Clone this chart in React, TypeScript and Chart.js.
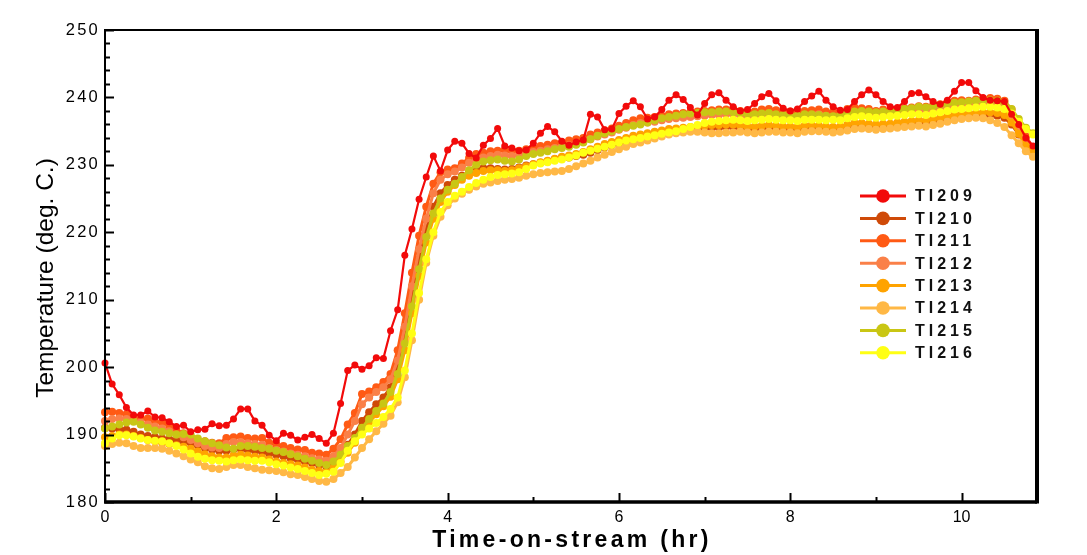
import React, { useEffect, useRef } from 'react';
import { Chart, registerables } from 'chart.js';

Chart.register(...registerables);

// sampling: one reading every 5 minutes, from 0 hr
const SAMPLE_MINUTES = 5;
const X_MAX = 10.88;
const Y_MIN = 180;
const Y_MAX = 250;
const yTicks = [180, 190, 200, 210, 220, 230, 240, 250];
const xTicks = [0, 2, 4, 6, 8, 10];
const yMinorStep = 2;
const xMinorStep = 1;

const seriesNames = ['TI209', 'TI210', 'TI211', 'TI212', 'TI213', 'TI214', 'TI215', 'TI216'];
const seriesColors = ['#f20a0a', '#cf4a08', '#ff5a14', '#fa8048', '#ffa300', '#ffb845', '#c9c614', '#ffff14'];

const ti209 = [
  200.6, 197.5, 195.9, 194.0, 192.9, 192.9, 193.5, 192.6, 192.5, 191.9,
  191.2, 191.4, 190.4, 190.7, 190.8, 191.6, 191.3, 191.4, 192.3, 193.8,
  193.8, 192.0, 191.4, 189.9, 189.1, 190.2, 189.9, 189.2, 189.6, 190.0,
  189.4, 188.7, 190.2, 194.6, 199.5, 200.3, 199.7, 200.2, 201.4, 201.3,
  205.4, 208.5, 216.6, 220.5, 224.9, 228.2, 231.3, 229.1, 232.2, 233.5,
  233.2, 231.7, 231.0, 232.9, 233.9, 235.4, 232.8, 232.5, 232.1, 232.2,
  233.2, 234.7, 235.7, 234.9, 233.5, 232.9, 233.4, 233.7, 237.5, 237.1,
  235.2, 235.3, 237.6, 238.7, 239.5, 238.6, 236.8, 237.1, 238.2, 239.6,
  240.4, 239.7, 238.5, 237.4, 239.1, 240.4, 240.7, 239.6, 238.6, 238.0,
  238.2, 239.1, 240.1, 240.6, 239.5, 238.4, 238.0, 238.3, 239.4, 240.2,
  240.9, 239.6, 238.6, 238.1, 238.2, 239.4, 240.4, 241.1, 240.4, 239.4,
  238.6, 238.5, 239.4, 240.6, 240.7, 240.1, 239.4, 239.0, 239.6, 240.9,
  242.2, 242.2, 241.0, 240.0, 239.6, 239.5, 239.4, 237.5, 236.0, 234.0, 232.8,
];

const ti210 = [
  191.0, 190.9, 190.8, 190.7, 190.4, 190.0, 189.8, 189.6, 189.4, 189.3,
  189.2, 189.0, 188.8, 188.4, 188.0, 187.8, 187.6, 187.6, 187.8, 187.9,
  187.7, 187.6, 187.4, 187.2, 187.0, 186.8, 186.5, 186.3, 186.0, 185.8,
  185.5, 185.3, 185.9, 187.0, 188.5, 190.0, 192.0, 193.3, 194.5, 195.5,
  197.0, 200.0, 205.0, 210.5, 216.0, 220.5, 223.8, 225.8, 227.0, 227.8,
  228.4, 228.9, 229.3, 229.5, 229.5, 229.4, 229.3, 229.4, 229.6, 229.9,
  230.1, 230.3, 230.5, 230.8, 231.0, 231.1, 231.3, 231.5, 231.8, 232.2,
  232.6, 232.9, 233.2, 233.5, 233.8, 234.0, 234.2, 234.5, 234.7, 234.9,
  235.0, 235.1, 235.2, 235.3, 235.4, 235.5, 235.5, 235.6, 235.6, 235.4,
  235.2, 235.3, 235.4, 235.5, 235.4, 235.3, 235.3, 235.2, 235.4, 235.5,
  235.4, 235.3, 235.2, 235.3, 235.6, 235.8, 235.8, 235.7, 235.6, 235.7,
  235.7, 235.9, 236.0, 236.1, 236.2, 236.2, 236.4, 236.6, 236.8, 237.0,
  237.1, 237.2, 237.3, 237.4, 237.4, 237.3, 237.0, 236.0, 234.5, 233.2, 232.0,
];

const ti211 = [
  193.3, 193.4, 193.2, 193.0, 192.5, 192.3, 192.4, 191.9, 191.8, 191.3,
  190.6, 190.2, 189.6, 189.2, 189.0, 188.8, 188.7, 189.5, 189.6, 189.7,
  189.5, 189.4, 189.5, 188.8, 188.5, 188.3, 188.0, 187.8, 187.7, 187.3,
  187.2, 187.0, 187.9, 189.3, 191.5, 193.2, 196.0, 196.4, 197.0, 197.8,
  199.0, 202.5, 208.0, 214.0, 219.5, 223.8, 227.2, 228.9, 229.3, 229.5,
  230.2, 231.0, 231.6, 231.8, 232.0, 232.1, 232.2, 232.0, 232.1, 232.3,
  232.5, 232.8, 233.0, 233.2, 233.3, 233.6, 233.8, 234.0, 234.5, 234.8,
  235.1, 235.4, 235.8, 236.2, 236.6, 236.9, 237.0, 237.1, 237.3, 237.5,
  237.6, 237.7, 237.8, 237.9, 238.0, 238.1, 238.2, 238.2, 238.3, 238.0,
  237.8, 237.9, 238.2, 238.3, 238.1, 237.8, 237.9, 237.7, 238.0, 238.1,
  238.2, 237.9, 237.8, 237.9, 238.3, 238.5, 238.4, 238.3, 238.0, 238.2,
  238.1, 238.3, 238.4, 238.5, 238.7, 238.6, 238.8, 239.0, 239.3, 239.5,
  239.6, 239.5, 239.7, 239.8, 239.9, 239.8, 239.5, 238.2, 236.0, 234.2, 232.6,
];

const ti212 = [
  192.0, 192.3, 192.4, 192.3, 192.0, 191.8, 191.5, 191.2, 190.9, 190.5,
  190.0, 189.6, 189.2, 188.7, 188.3, 188.1, 188.0, 188.6, 188.9, 188.9,
  188.7, 188.6, 188.5, 188.0, 187.7, 187.5, 187.2, 187.0, 186.8, 186.5,
  186.3, 186.1, 186.8, 188.0, 190.0, 192.0, 194.5, 195.5, 196.3, 197.0,
  198.2, 201.0, 206.0, 212.0, 217.5, 222.0, 225.8, 227.8, 228.6, 229.0,
  229.6, 230.3, 230.8, 231.1, 231.3, 231.5, 231.4, 231.3, 231.5, 231.7,
  231.9, 232.1, 232.3, 232.5, 232.7, 232.9, 233.1, 233.4, 233.8, 234.2,
  234.5, 234.8, 235.2, 235.5, 235.9, 236.2, 236.3, 236.4, 236.6, 236.8,
  236.9, 237.0, 237.1, 237.2, 237.3, 237.4, 237.4, 237.5, 237.5, 237.3,
  237.1, 237.2, 237.4, 237.5, 237.3, 237.1, 237.2, 237.0, 237.3, 237.4,
  237.5, 237.2, 237.1, 237.2, 237.6, 237.7, 237.6, 237.5, 237.3, 237.5,
  237.4, 237.6, 237.7, 237.8, 238.0, 237.9, 238.1, 238.3, 238.5, 238.7,
  238.8, 238.7, 238.9, 239.0, 239.1, 239.0, 238.6, 237.4, 235.3, 233.6, 232.3,
];

const ti213 = [
  189.6, 189.8, 190.0, 190.0, 189.8, 189.5, 189.2, 189.0, 188.8, 188.6,
  188.4, 188.2, 187.9, 187.5, 187.1, 186.8, 186.6, 186.6, 186.9, 187.0,
  186.9, 186.7, 186.6, 186.3, 186.0, 185.8, 185.6, 185.4, 185.1, 184.8,
  184.6, 184.4, 185.0, 186.0, 187.3, 188.8, 190.5, 191.8, 193.0, 194.2,
  195.6, 198.2, 202.5, 208.0, 213.5, 218.5, 222.0, 224.5, 226.0, 227.0,
  227.8, 228.4, 228.8, 229.1, 229.2, 229.2, 229.1, 229.2, 229.5, 229.8,
  230.1, 230.4, 230.6, 230.9, 231.2, 231.4, 231.6, 231.9, 232.3, 232.7,
  233.1, 233.4, 233.7, 234.0, 234.3, 234.5, 234.7, 234.9, 235.1, 235.3,
  235.4, 235.5, 235.6, 235.7, 235.8, 235.9, 235.9, 236.0, 236.0, 235.8,
  235.7, 235.7, 235.8, 235.9, 235.8, 235.7, 235.7, 235.6, 235.8, 235.9,
  235.8, 235.7, 235.6, 235.7, 236.0, 236.2, 236.2, 236.1, 236.0, 236.1,
  236.1, 236.3, 236.4, 236.5, 236.6, 236.6, 236.8, 237.0, 237.2, 237.4,
  237.5, 237.6, 237.7, 237.8, 237.8, 237.7, 237.4, 236.3, 234.6, 232.8, 231.8,
];

const ti214 = [
  188.3, 188.6, 188.8, 188.7, 188.3, 188.0, 188.0, 188.0, 187.9, 187.6,
  187.2, 186.8, 186.3, 185.9, 185.3, 185.0, 184.9, 185.2, 185.5, 185.5,
  185.2, 185.0, 184.8, 184.7, 184.6, 184.4, 184.1, 184.0, 183.7, 183.4,
  183.1, 183.0, 183.4, 184.3, 185.2, 186.6, 188.0, 189.3, 190.5, 191.6,
  192.8, 194.8, 198.5, 204.0, 210.0, 215.5, 219.5, 222.3, 224.0, 225.0,
  225.7, 226.3, 226.8, 227.2, 227.4, 227.6, 227.8, 227.9, 228.1, 228.4,
  228.6, 228.8, 228.9, 229.0, 229.1, 229.4, 229.8, 230.2, 230.6, 231.1,
  231.5, 231.9, 232.3, 232.7, 233.1, 233.3, 233.6, 233.9, 234.2, 234.5,
  234.7, 234.8, 234.9, 234.9, 234.8, 234.7, 234.7, 234.8, 234.8, 234.9,
  234.8, 234.7, 234.8, 234.9, 234.9, 234.8, 234.8, 234.7, 234.9, 235.0,
  235.0, 234.9, 234.8, 234.9, 235.1, 235.3, 235.4, 235.3, 235.2, 235.3,
  235.4, 235.5, 235.6, 235.7, 235.8, 235.7, 235.9, 236.1, 236.4, 236.6,
  236.8, 236.9, 237.0, 236.9, 236.6, 236.2, 235.6, 234.4, 233.2, 232.0, 231.2,
];

const ti215 = [
  190.9, 191.2, 191.5, 191.8, 191.9, 191.5, 191.0, 190.6, 190.4, 190.2,
  190.0, 190.1, 190.0, 189.4, 189.0, 188.7, 188.4, 188.1, 187.9, 188.3,
  188.3, 188.2, 188.0, 187.9, 187.6, 187.4, 187.1, 186.8, 186.4, 186.1,
  185.8, 185.5, 186.0, 187.0, 188.3, 189.5, 191.0, 192.3, 193.5, 194.6,
  196.3, 199.0, 203.5, 209.0, 214.5, 219.3, 222.8, 225.0, 226.3, 227.2,
  228.2, 229.2, 230.0, 230.5, 230.7, 230.8, 230.6, 230.5, 230.8, 231.3,
  231.6, 231.8, 232.0, 232.3, 232.5, 232.7, 233.0, 233.3, 233.8, 234.3,
  234.7, 235.0, 235.3, 235.6, 235.8, 236.0, 236.3, 236.6, 236.9, 237.1,
  237.3, 237.5, 237.6, 237.7, 237.8, 237.8, 237.9, 237.9, 237.8, 237.7,
  237.5, 237.5, 237.6, 237.7, 237.5, 237.4, 237.4, 237.3, 237.5, 237.5,
  237.4, 237.3, 237.2, 237.4, 237.7, 237.9, 238.0, 237.9, 237.8, 237.9,
  237.9, 238.1, 238.3, 238.4, 238.6, 238.5, 238.7, 238.9, 239.1, 239.2,
  239.3, 239.4, 239.5, 239.6, 239.6, 239.5, 239.3, 238.3, 236.8, 235.5, 234.7,
];

const ti216 = [
  188.7, 189.4, 189.9, 189.9, 189.7, 189.4, 189.2, 189.1, 189.0, 188.7,
  188.3, 187.8, 187.2, 186.7, 186.4, 186.2, 186.1, 186.0, 186.2, 186.3,
  186.2, 186.1, 186.1, 185.9, 185.6, 185.4, 185.1, 184.9, 184.6, 184.3,
  184.0, 184.2, 184.5, 185.8, 187.6, 189.0, 190.0, 190.9, 191.7, 192.6,
  193.8, 195.5, 199.5, 205.0, 211.0, 216.0, 220.0, 223.0, 224.5, 225.4,
  226.0, 226.7, 227.3, 227.8, 228.2, 228.5, 228.6, 228.7, 228.9, 229.4,
  229.9, 230.2, 230.4, 230.6, 230.8, 231.1, 231.4, 231.8, 232.1, 232.4,
  232.7, 233.0, 233.3, 233.6, 233.8, 234.0, 234.2, 234.4, 234.6, 234.8,
  235.0, 235.3, 235.6, 235.9, 236.2, 236.4, 236.5, 236.6, 236.7, 236.6,
  236.5, 236.6, 236.7, 236.8, 236.7, 236.6, 236.6, 236.5, 236.7, 236.7,
  236.7, 236.6, 236.7, 236.6, 236.9, 237.1, 237.2, 237.1, 237.0, 237.1,
  237.2, 237.3, 237.4, 237.5, 237.5, 237.4, 237.6, 237.8, 238.0, 238.2,
  238.3, 238.4, 238.5, 238.6, 238.6, 238.5, 238.3, 237.6, 236.4, 235.3, 234.5,
];

const seriesValues = [ti209, ti210, ti211, ti212, ti213, ti214, ti215, ti216];
// drawing order (lower = drawn on top)
const seriesOrder = [0, 7, 6, 5, 4, 3, 2, 1];

const FONT = '"Liberation Sans", Arial, sans-serif';
const NARROW = '"Liberation Sans Narrow", "Liberation Sans", Arial, sans-serif';

const decorPlugin = {
  id: 'decor',
  afterDatasetsDraw(chart: any) {
    const { ctx, chartArea: a, scales } = chart;
    const xs = scales.x;
    const ys = scales.y;
    ctx.save();
    ctx.strokeStyle = '#000';
    ctx.fillStyle = '#000';
    ctx.lineCap = 'butt';

    // frame
    ctx.lineWidth = 2;
    ctx.beginPath();
    ctx.moveTo(a.left, a.bottom);
    ctx.lineTo(a.left, a.top);
    ctx.lineTo(a.right, a.top);
    ctx.stroke();
    ctx.lineWidth = 3.5;
    ctx.beginPath();
    ctx.moveTo(a.left - 1, a.bottom);
    ctx.lineTo(a.right, a.bottom);
    ctx.stroke();
    ctx.lineWidth = 4;
    ctx.beginPath();
    ctx.moveTo(a.right, a.top - 1);
    ctx.lineTo(a.right, a.bottom + 1.5);
    ctx.stroke();

    // y ticks (inward)
    ctx.lineWidth = 2;
    for (let v = Y_MIN; v <= Y_MAX; v += yMinorStep) {
      const y = Math.round(ys.getPixelForValue(v)) + 0.5;
      const major = yTicks.includes(v);
      ctx.beginPath();
      ctx.moveTo(a.left, y);
      ctx.lineTo(a.left + (major ? 9 : 5), y);
      ctx.stroke();
    }
    // x ticks (inward)
    for (let v = 0; v <= X_MAX; v += xMinorStep) {
      const x = Math.round(xs.getPixelForValue(v)) + 0.5;
      const major = xTicks.includes(v);
      ctx.beginPath();
      ctx.moveTo(x, a.bottom);
      ctx.lineTo(x, a.bottom - (major ? 9 : 5));
      ctx.stroke();
    }

    // y tick labels
    ctx.font = `16.5px ${FONT}`;
    (ctx as any).letterSpacing = '2.2px';
    ctx.textAlign = 'right';
    ctx.textBaseline = 'middle';
    for (const v of yTicks) {
      ctx.fillText(String(v), a.left - 5, ys.getPixelForValue(v));
    }
    // x tick labels
    (ctx as any).letterSpacing = '0px';
    ctx.font = `16px ${NARROW}`;
    ctx.textAlign = 'center';
    ctx.textBaseline = 'top';
    for (const v of xTicks) {
      ctx.fillText(String(v), xs.getPixelForValue(v), a.bottom + 8);
    }

    // axis titles
    ctx.font = `bold 23px ${NARROW}`;
    (ctx as any).letterSpacing = '3.3px';
    ctx.textBaseline = 'middle';
    ctx.fillText('Time-on-stream (hr)', 572, 541);

    ctx.save();
    (ctx as any).letterSpacing = '0px';
    ctx.translate(46, 278);
    ctx.rotate(-Math.PI / 2);
    ctx.font = `24.5px ${FONT}`;
    ctx.textAlign = 'center';
    ctx.textBaseline = 'middle';
    ctx.fillText('Temperature (deg. C.)', 0, 0);
    ctx.restore();

    // legend
    const lx = 860;
    const ly = 196;
    const step = 22.4;
    seriesNames.forEach((name, i) => {
      const y = ly + i * step;
      ctx.strokeStyle = seriesColors[i];
      ctx.fillStyle = seriesColors[i];
      ctx.lineWidth = 3;
      ctx.beginPath();
      ctx.moveTo(lx, y);
      ctx.lineTo(lx + 46, y);
      ctx.stroke();
      ctx.beginPath();
      ctx.arc(lx + 23, y, 6.8, 0, Math.PI * 2);
      ctx.fill();
      ctx.fillStyle = '#111';
      ctx.font = `bold 16px ${FONT}`;
      (ctx as any).letterSpacing = '4px';
      ctx.textAlign = 'left';
      ctx.textBaseline = 'middle';
      ctx.fillText(name, lx + 55, y + 1);
    });
    ctx.restore();
  },
};

export default function App() {
  const canvasRef = useRef<HTMLCanvasElement | null>(null);

  useEffect(() => {
    const canvas = canvasRef.current;
    if (!canvas) return;
    const datasets = seriesNames.map((name, s) => ({
      label: name,
      data: seriesValues[s].map((v, i) => ({ x: (i * SAMPLE_MINUTES) / 60, y: v })),
      borderColor: seriesColors[s],
      backgroundColor: seriesColors[s],
      pointBackgroundColor: seriesColors[s],
      pointBorderColor: seriesColors[s],
      borderWidth: s === 0 ? 2.2 : 3,
      pointRadius: s === 0 ? 3.5 : 4,
      pointBorderWidth: 0,
      tension: 0,
      order: seriesOrder[s],
      clip: false as any,
    }));
    const chart = new Chart(canvas, {
      type: 'line',
      data: { datasets },
      options: {
        animation: false,
        responsive: false,
        devicePixelRatio: 1,
        layout: { padding: { left: 105, right: 50, top: 30, bottom: 53 } },
        plugins: { legend: { display: false }, tooltip: { enabled: false } },
        scales: {
          x: { type: 'linear', min: 0, max: X_MAX, display: false },
          y: { type: 'linear', min: Y_MIN, max: Y_MAX, display: false },
        },
      },
      plugins: [decorPlugin],
    });
    return () => chart.destroy();
  }, []);

  return (
    <div style={{ position: 'fixed', left: 0, top: 0, width: 1087, height: 555, background: '#fff' }}>
      <canvas ref={canvasRef} width={1087} height={555} />
    </div>
  );
}
